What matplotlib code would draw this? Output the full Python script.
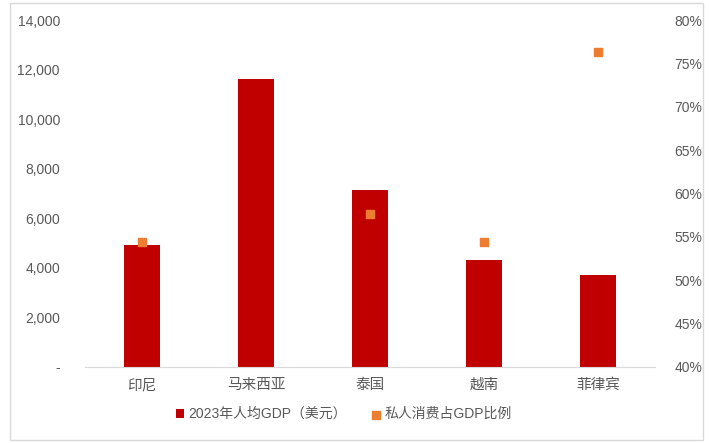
import matplotlib.pyplot as plt
from matplotlib.ticker import FuncFormatter
from matplotlib.patches import Rectangle

plt.rcParams['font.family'] = ['Liberation Sans', 'Noto Sans CJK SC', 'DejaVu Sans']

countries = ['印尼', '马来西亚', '泰国', '越南', '菲律宾']
gdp_per_capita = [4920, 11600, 7150, 4320, 3720]
consumption_share = [0.544, None, 0.576, 0.544, 0.763]

bar_color = '#C00000'
dot_color = '#ED7D31'
text_color = '#595959'

fig = plt.figure(figsize=(7.09, 4.43), dpi=100)
ax = fig.add_axes([85 / 709, 1 - 367 / 443, 570 / 709, 347 / 443])

x = list(range(len(countries)))
ax.bar(x, gdp_per_capita, width=0.32, color=bar_color, label='2023年人均GDP（美元）', zorder=2)
ax.set_xlim(-0.5, len(countries) - 0.5)
ax.set_ylim(0, 14000)
ax.set_yticks(range(0, 14001, 2000))
ax.yaxis.set_major_formatter(FuncFormatter(lambda v, p: '-' if v == 0 else f'{int(v):,}'))
ax.set_xticks(x)
ax.set_xticklabels(countries)

ax2 = ax.twinx()
xs = [i for i, v in zip(x, consumption_share) if v is not None]
ys = [v for v in consumption_share if v is not None]
ax2.scatter(xs, ys, marker='s', s=38, color=dot_color, label='私人消费占GDP比例', zorder=3)
ax2.set_ylim(0.40, 0.80)
ax2.set_yticks([0.40 + 0.05 * i for i in range(9)])
ax2.yaxis.set_major_formatter(FuncFormatter(lambda v, p: f'{v * 100:.0f}%'))

for a in (ax, ax2):
    for s in a.spines.values():
        s.set_visible(False)
    a.tick_params(length=0, labelsize=10, colors=text_color)
ax.spines['bottom'].set_visible(True)
ax.spines['bottom'].set_color('#D9D9D9')
ax.tick_params(axis='y', pad=18)
ax.tick_params(axis='x', pad=8, labelsize=10.5)
ax2.tick_params(axis='y', pad=14)

h1, l1 = ax.get_legend_handles_labels()
h2, l2 = ax2.get_legend_handles_labels()
fig.legend(h1 + h2, l1 + l2, loc='center', bbox_to_anchor=(344 / 709, 1 - 414 / 443),
           ncol=2, frameon=False, fontsize=10, labelcolor=text_color,
           handlelength=0.6, handleheight=0.6, handletextpad=0.3, columnspacing=1.8,
           markerscale=0.9)

fig.patches.append(Rectangle((10 / 709, 3 / 443), 693 / 709, 437 / 443, transform=fig.transFigure,
                             fill=False, edgecolor='#D9D9D9', linewidth=1))

plt.savefig('out.png', dpi=100)
